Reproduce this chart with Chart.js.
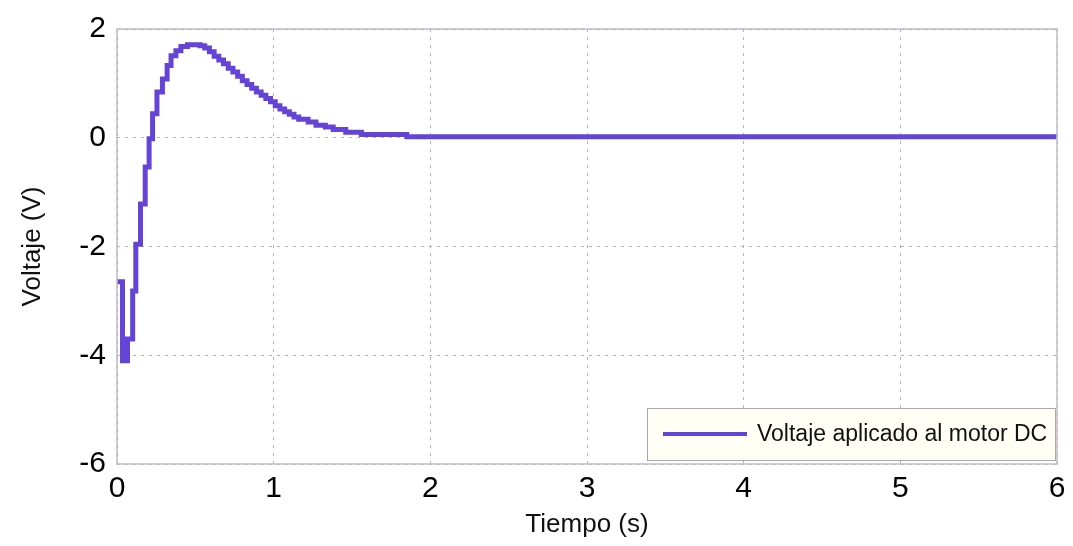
<!DOCTYPE html>
<html>
<head>
<meta charset="utf-8">
<script src="https://cdn.jsdelivr.net/npm/chart.js@4/dist/chart.umd.min.js"></script>
<style>
  body { margin: 0; background: #fff; }
</style>
</head>
<body>
<canvas id="voltChart" width="1073" height="546"></canvas>
<script>
// Data (stairs output, value holds until next time)
var tiempo = [0, 0.035, 0.067, 0.1, 0.12, 0.15, 0.18, 0.205, 0.227, 0.255, 0.29, 0.32, 0.345, 0.376, 0.408, 0.45,
              0.53, 0.56, 0.59, 0.62, 0.65, 0.68, 0.71, 0.74, 0.77, 0.80, 0.83, 0.86, 0.89, 0.92, 0.95, 0.98,
              1.01, 1.04, 1.07, 1.10, 1.13, 1.16, 1.22, 1.27, 1.33, 1.38, 1.46, 1.56, 1.85, 6.0];
var voltaje = [-2.65, -4.1, -3.7, -2.82, -1.96, -1.22, -0.54, -0.02, 0.44, 0.84, 1.08, 1.33, 1.51, 1.60, 1.68, 1.71,
               1.69, 1.65, 1.58, 1.50, 1.43, 1.36, 1.28, 1.21, 1.13, 1.05, 0.98, 0.91, 0.84, 0.78, 0.72, 0.66,
               0.59, 0.53, 0.48, 0.43, 0.38, 0.34, 0.29, 0.23, 0.20, 0.15, 0.10, 0.06, 0.02, 0.02];
var xTicks = [0, 1, 2, 3, 4, 5, 6];
var yTicks = [-6, -4, -2, 0, 2];
var serieLabel = "Voltaje aplicado al motor DC";

var FONT = "'Liberation Sans', Arial, sans-serif";
var lineColor = "#6444d6";
var gridColor = "#b9aec2";
var boxColor = "#c2b8c8";

var points = tiempo.map(function (t, i) { return { x: t, y: voltaje[i] }; });

// frame round the plot + legend box inside it
var frameAndLegend = {
  id: "frameAndLegend",
  afterDraw: function (chart) {
    var ctx = chart.ctx;
    var a = chart.chartArea;
    ctx.save();
    ctx.strokeStyle = boxColor;
    ctx.lineWidth = 1.5;
    ctx.strokeRect(a.left, a.top, a.right - a.left, a.bottom - a.top);

    // legend
    var bx = 647, by = 408, bw = 408, bh = 52;
    ctx.fillStyle = "#fffff6";
    ctx.fillRect(bx, by, bw, bh);
    ctx.strokeStyle = "#a8a8a8";
    ctx.lineWidth = 1;
    ctx.strokeRect(bx + 0.5, by + 0.5, bw, bh);
    ctx.strokeStyle = lineColor;
    ctx.lineWidth = 4;
    ctx.beginPath();
    ctx.moveTo(663, by + bh / 2);
    ctx.lineTo(747, by + bh / 2);
    ctx.stroke();
    ctx.fillStyle = "#111";
    ctx.font = "23px " + FONT;
    ctx.textBaseline = "middle";
    ctx.fillText(chart.data.datasets[0].label, 757, by + bh / 2 + 1);
    ctx.restore();
  }
};

var ctx = document.getElementById("voltChart");

var config = {
  type: "line",
  data: {
    datasets: [{
      label: serieLabel,
      data: points,
      borderColor: lineColor,
      borderWidth: 5,
      stepped: true,
      pointRadius: 0,
      fill: false
    }]
  },
  options: {
    responsive: false,
    animation: false,
    layout: { padding: { left: 0, top: 25, right: 16, bottom: 0 } },
    plugins: {
      legend: { display: false },
      tooltip: { enabled: false }
    },
    scales: {
      x: {
        type: "linear",
        min: 0,
        max: 6,
        afterBuildTicks: function (scale) {
          scale.ticks = xTicks.map(function (v) { return { value: v }; });
        },
        afterFit: function (scale) { scale.height = 82; },
        grid: { color: gridColor, lineWidth: 1, drawTicks: false },
        border: { display: false, dash: [3, 5] },
        ticks: { color: "#000", font: { family: FONT, size: 30 }, padding: 7, maxRotation: 0 },
        title: {
          display: true,
          text: "Tiempo (s)",
          color: "#111",
          font: { family: FONT, size: 26 },
          padding: { top: 0, bottom: 6 }
        }
      },
      y: {
        min: -6,
        max: 2,
        afterBuildTicks: function (scale) {
          scale.ticks = yTicks.map(function (v) { return { value: v }; });
        },
        afterFit: function (scale) { scale.width = 117; },
        grid: { color: gridColor, lineWidth: 1, drawTicks: false },
        border: { display: false, dash: [3, 5] },
        ticks: { color: "#000", font: { family: FONT, size: 30 }, padding: 11 },
        title: {
          display: true,
          text: "Voltaje (V)",
          color: "#111",
          font: { family: FONT, size: 26 },
          padding: { top: 17, bottom: 0 }
        }
      }
    }
  },
  plugins: [frameAndLegend]
};

var voltChart = new Chart(ctx, config);
</script>
</body>
</html>
